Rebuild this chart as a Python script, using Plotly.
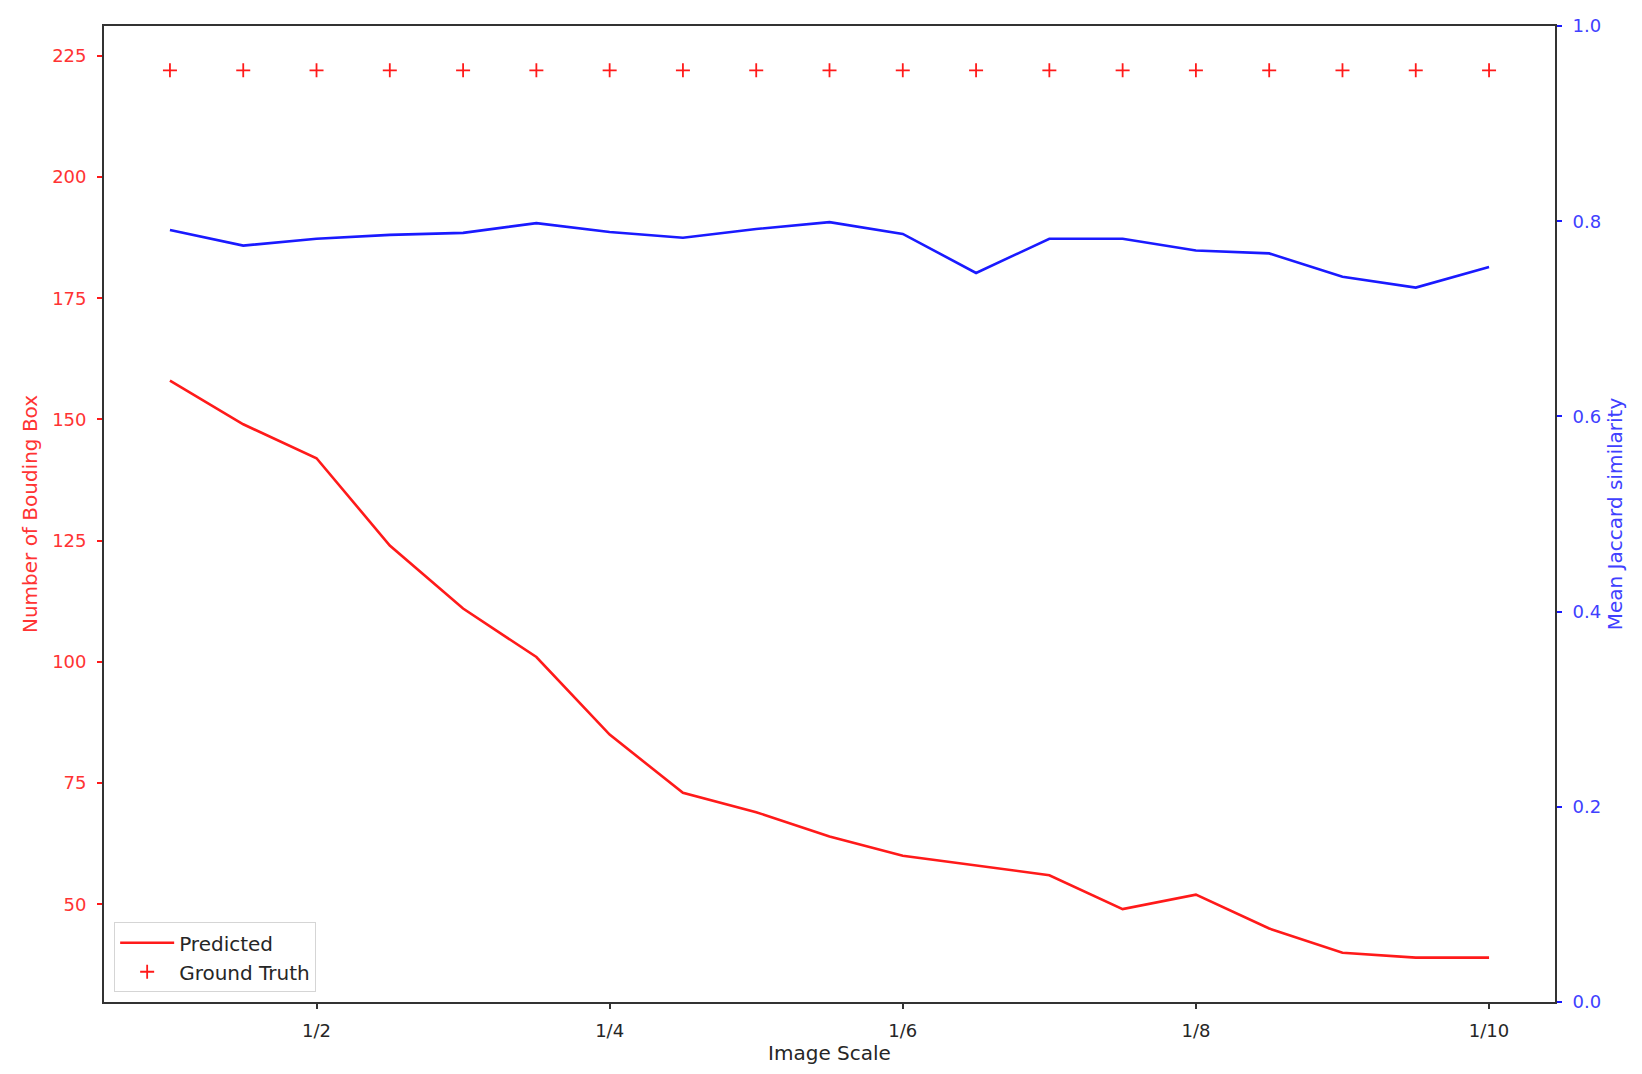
import plotly.graph_objects as go

# Data
scale_x = [1, 1.5, 2, 2.5, 3, 3.5, 4, 4.5, 5, 5.5, 6, 6.5, 7, 7.5, 8, 8.5, 9, 9.5, 10]
predicted = [158, 149, 142, 124, 111, 101, 85, 73, 69, 64, 60, 58, 56, 49, 52, 45, 40, 39, 39]
ground_truth = [222] * 19
jaccard = [0.791, 0.775, 0.782, 0.786, 0.788, 0.798, 0.789, 0.783, 0.792, 0.799,
           0.787, 0.747, 0.782, 0.782, 0.770, 0.767, 0.743, 0.732, 0.753]
x_tick_vals = [2, 4, 6, 8, 10]
x_tick_text = ["1/2", "1/4", "1/6", "1/8", "1/10"]
left_ticks = [50, 75, 100, 125, 150, 175, 200, 225]
right_ticks = [0.0, 0.2, 0.4, 0.6, 0.8, 1.0]

RED = "#ff1a1a"
RED_TXT = "#ff3333"
BLUE = "#1a1aff"
BLUE_TXT = "#4040ff"
DARK = "#262626"
FONT = "DejaVu Sans"
TICK_SIZE = 18
LABEL_SIZE = 20

fig = go.Figure()
fig.add_trace(go.Scatter(x=scale_x, y=predicted, mode="lines", name="Predicted",
                         line=dict(color=RED, width=2.6)))
fig.add_trace(go.Scatter(x=scale_x, y=ground_truth, mode="markers", name="Ground Truth",
                         marker=dict(symbol="cross-thin", size=10, color=RED,
                                     line=dict(color=RED, width=1.8))))
fig.add_trace(go.Scatter(x=scale_x, y=jaccard, mode="lines", name="Mean Jaccard",
                         line=dict(color=BLUE, width=2.6), yaxis="y2", showlegend=False))

fig.update_layout(
    width=1642, height=1074,
    margin=dict(l=96, r=95, t=18, b=80),
    paper_bgcolor="white", plot_bgcolor="white",
    font=dict(family=FONT, size=TICK_SIZE, color=DARK),
    xaxis=dict(range=[0.55, 10.45], tickmode="array", tickvals=x_tick_vals, ticktext=x_tick_text,
               showgrid=False, zeroline=False, showline=True, linecolor="#333333", linewidth=1.8,
               mirror=True, ticks="outside", ticklen=5, tickwidth=1.5, tickcolor="#333333",
               ticklabelstandoff=6, automargin=False,
               tickfont=dict(size=TICK_SIZE, color=DARK),
               title=dict(text="Image Scale", font=dict(size=LABEL_SIZE, color=DARK), standoff=4)),
    yaxis=dict(range=[29.85, 231.15], tickmode="array", tickvals=left_ticks,
               showgrid=False, zeroline=False, showline=True, linecolor="#333333", linewidth=1.8,
               mirror=False, ticks="outside", ticklen=5, tickwidth=1.5, tickcolor=RED,
               ticklabelstandoff=7, automargin=False,
               tickfont=dict(size=TICK_SIZE, color=RED_TXT),
               title=dict(text="Number of Bouding Box", font=dict(size=LABEL_SIZE, color=RED_TXT),
                          standoff=9)),
    yaxis2=dict(range=[0, 1], overlaying="y", side="right", tickmode="array", tickvals=right_ticks,
                tickformat=".1f",
                showgrid=False, zeroline=False, showline=True, linecolor="#333333", linewidth=1.8,
                ticks="outside", ticklen=5, tickwidth=1.5, tickcolor=BLUE,
                ticklabelstandoff=7, automargin=False,
                tickfont=dict(size=TICK_SIZE, color=BLUE_TXT),
                title=dict(text="Mean Jaccard similarity", font=dict(size=LABEL_SIZE, color=BLUE_TXT),
                           standoff=8)),
    legend=dict(x=0.007, y=0.01, xanchor="left", yanchor="bottom",
                bgcolor="rgba(255,255,255,0.8)", bordercolor="#d5d5d5", borderwidth=1,
                font=dict(size=LABEL_SIZE, color=DARK), itemwidth=54, tracegroupgap=0),
    showlegend=True,
)

fig.write_html("out.html")
